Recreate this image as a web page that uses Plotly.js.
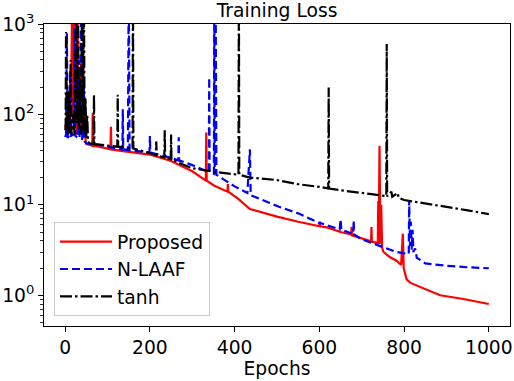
<!DOCTYPE html>
<html>
<head>
<meta charset="utf-8">
<script src="https://cdn.plot.ly/plotly-3.0.1.min.js"></script>
<style>html,body{margin:0;padding:0;background:#fff;}#chart{width:514px;height:381px;}</style>
</head>
<body>
<div id="chart"></div>
<script>
// Proposed (red)
const proposedEpochs = [0,3,5,7,10,12,15,17,19,21,23,25,27,29,31,33,35,38,40,42,44,46,48,50,60,64,65,66,80,107,108,109,150,200,250,300,332,333,334,350,383,384,385,410,436,500,550,600,601,602,620,650,675,676,677,700,722,723,724,738,739,740,742,744,746,748,751,766,782,793,797,799,806,815,846,885,940,1000];
const proposedLoss = [76,62,90,60,150,65,400,3000,80,3000,70,500,60,2000,70,300,62,430,60,475,55,120,52,47,46,45,103,45,44,41,73,41,38.5,36,30.5,23.5,18.5,63,18.5,16.5,14,17,14,11.5,9,7.4,6.5,5.8,6.4,5.8,5.6,5.0,4.7,5.7,4.6,4.26,3.95,5.7,3.9,3.8,11,3.7,45,3.7,10,3.4,3.03,2.65,2.41,2.16,4.8,2.0,1.5,1.37,1.2,1.0,0.91,0.80];

// N-LAAF (blue)
const nlaafEpochs = [0,2,4,6,10,12,14,20,22,24,30,32,34,38,40,44,46,50,60,80,100,135,136,137,148,150,152,199,200,201,250,267,268,269,300,339,340,341,351,352,353,355,357,400,430,436,438,500,550,600,601,602,648,650,652,680,681,682,700,750,780,800,811,812,814,816,818,820,822,826,830,850,900,950,1000];
const nlaafLoss = [56,60,795,55,60,300,58,60,900,58,55,400,55,3000,52,200,50,48,47,46,44,41,114,41,40.5,3000,40,38,57.6,38,33,31,56,31,27.5,23,256,23,22,3000,22,3000,21.5,16,13.5,41,12.8,9.7,8.05,6.3,6.5,6.3,5.35,6.9,5.3,4.75,6.7,4.7,4.16,3.45,3.03,2.91,2.85,11.3,3.5,6.5,3.2,5.3,3.0,3.3,2.6,2.25,2.12,2.04,1.99];

// tanh (black)
const tanhEpochs = [0,1,2,3,5,7,9,11,13,15,20,22,26,28,30,32,35,37,40,42,44,46,48,50,52,54,58,67,68,69,100,123,124,125,159,160,161,199,214,215,216,234,235,236,249,250,251,300,350,409,410,411,436,500,550,600,621,622,623,650,700,739,758,759,760,770,772,785,787,800,850,900,950,1000];
const tanhLoss = [67,70,817,65,200,60,180,62,400,60,100,60,3000,80,3000,70,250,60,3000,65,3000,60,150,55,100,50,48,47,165,47,45,44,165,44,42,3000,42,37,35.5,50,35,33.5,67,33.5,32,60,31.5,25.4,23.3,21.5,3000,21.5,20,18.8,16.9,15.8,15.2,198,15.1,14.5,13.5,12.8,12.5,600,12.4,14,12.3,13.5,12,11.3,10.4,9.5,8.7,7.9];

const seriesNames = ['Proposed','N-LAAF','tanh'];
const xTickVals = [0,200,400,600,800,1000];
const yTickVals = [1,10,100,1000];
const yTickText = ['10<sup>0</sup>','10<sup>1</sup>','10<sup>2</sup>','10<sup>3</sup>'];
const yMinorVals = [0.5,0.6,0.7,0.8,0.9,2,3,4,5,6,7,8,9,20,30,40,50,60,70,80,90,200,300,400,500,600,700,800,900];

const FONT = 'DejaVu Sans, sans-serif';
const traces = [
  {x: proposedEpochs, y: proposedLoss, name: seriesNames[0], mode: 'lines', line: {color: '#ff0000', width: 2.2}},
  {x: nlaafEpochs, y: nlaafLoss, name: seriesNames[1], mode: 'lines', line: {color: '#0000ff', width: 2.2, dash: '8px,4px'}},
  {x: tanhEpochs, y: tanhLoss, name: seriesNames[2], mode: 'lines', line: {color: '#000000', width: 2.2, dash: '12px,3px,2.5px,3px'}}
];

const layout = {
  width: 514, height: 381,
  margin: {l: 44, r: 4, t: 24, b: 55},
  paper_bgcolor: '#fff', plot_bgcolor: '#fff',
  font: {family: FONT, size: 18.7, color: '#000'},
  showlegend: true,
  title: {text: 'Training Loss', font: {family: FONT, size: 18.7, color: '#000'}, x: 0.539, xanchor: 'center', yref: 'container', y: 0.972, yanchor: 'middle'},
  xaxis: {
    range: [-50, 1050], tickvals: xTickVals, ticks: 'outside', ticklen: 5, tickwidth: 1, tickcolor: '#000',
    showline: true, linecolor: '#000', linewidth: 1, mirror: true, showgrid: false, zeroline: false,
    tickfont: {family: FONT, size: 18.7, color: '#000'},
    title: {text: 'Epochs', font: {family: FONT, size: 18.7, color: '#000'}, standoff: 4}
  },
  yaxis: {
    type: 'log', range: [-0.34, 3], tickvals: yTickVals, ticktext: yTickText,
    ticks: 'outside', ticklen: 5, tickwidth: 1, tickcolor: '#000',
    minor: {tickvals: yMinorVals, ticks: 'outside', ticklen: 3, tickwidth: 0.8, tickcolor: '#000', showgrid: false},
    showline: true, linecolor: '#000', linewidth: 1, mirror: true, showgrid: false, zeroline: false,
    tickfont: {family: FONT, size: 18.7, color: '#000'}
  },
  legend: {
    x: 0.0215, y: 0.033, xanchor: 'left', yanchor: 'bottom',
    bgcolor: 'rgba(255,255,255,0.8)', bordercolor: '#cccccc', borderwidth: 1,
    font: {family: FONT, size: 18.7, color: '#000'}, tracegroupgap: 0, itemwidth: 52
  }
};

Plotly.newPlot('chart', traces, layout, {displayModeBar: false, staticPlot: true});
</script>
</body>
</html>
